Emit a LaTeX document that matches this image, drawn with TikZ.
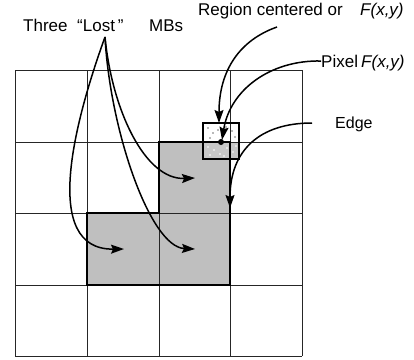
\documentclass[tikz,border=0pt]{standalone}
\usepackage{fontspec}
\setmainfont{Liberation Sans}
\usetikzlibrary{arrows.meta}
\begin{document}
\begin{tikzpicture}[x=1pt,y=-1pt,
  gridline/.style={line width=0.9pt,black!85},
  outline/.style={line width=2.4pt,black},
  pointer/.style={line width=1.5pt,-{Stealth[length=13pt,width=9pt,inset=2pt]}},
  lbl/.style={inner sep=0pt,anchor=base west,font=\fontsize{17}{20}\selectfont},
  speck/.style={radius=0.9pt}]
\useasboundingbox (0,0) rectangle (414,359);
\fill[white] (0,0) rectangle (414,359);
% gray L region
\fill[black!25] (87,213) -- (159,213) -- (159,142) -- (230,142) -- (230,285) -- (87,285) -- cycle;
% small region box fills
\fill[white] (203,123) rectangle (239,142);
\fill[black!22] (203,142) rectangle (239,159);
\foreach \p in {(208,128),(213,133),(226,127),(232,131),(210,138),(235,137),(218,130)}
  \fill[black!55,speck] \p circle;
\foreach \p in {(208,147),(214,150),(220,154),(227,148),(233,152),(210,155),(236,146),(224,156)}
  \fill[white,speck] \p circle;
% grid
\foreach \x in {15,87,159,230,302} \draw[gridline] (\x,70) -- (\x,356);
\foreach \y in {70,142,213,285,356} \draw[gridline] (15,\y) -- (302,\y);
% thick outline
\draw[outline] (87,213) -- (159,213) -- (159,142) -- (230,142) -- (230,285) -- (87,285) -- cycle;
% small box
\draw[line width=1.8pt] (203,123) rectangle (239,159);
\fill (221,142) circle[radius=3pt];
\coordinate (pix) at (222,140);
% labels
\node[lbl] (three) at (23,31) {\makebox[54pt][l]{Three}\makebox[72pt][l]{“Lost\,”}MBs};
\node[lbl] (region) at (198,15) {\makebox[162pt][l]{Region centered or}\textit{F(x,y)}};
\node[lbl] (pixel) at (321,67) {\makebox[40pt][l]{Pixel}\textit{F(x,y)}};
\node[lbl,font=\fontsize{16}{19}\selectfont] (edge) at (335,128) {Edge};
\coordinate (lost) at (105,37);
\coordinate (regstart) at (277,27);
\coordinate (pixstart) at (321,61);
\coordinate (edgestart) at (312,123);
\coordinate (mbA) at (124,249);
\coordinate (mbB) at (195,249);
\coordinate (mbC) at (195,178);
\coordinate (boxtop) at (219,123);
\coordinate (edgept) at (230,208);
% arrows
\draw[pointer] (lost) .. controls (75,120) and (40,250) .. (mbA);
\draw[pointer] (lost) .. controls (110,130) and (150,247) .. (mbB);
\draw[pointer] (lost) .. controls (112,110) and (145,180) .. (mbC);
\draw[pointer] (regstart) .. controls (240,40) and (219,70) .. (boxtop);
\draw[pointer] (pixstart) .. controls (270,60) and (230,90) .. (pix);
\draw[pointer] (edgestart) .. controls (260,123) and (230,150) .. (edgept);
\end{tikzpicture}
\end{document}
